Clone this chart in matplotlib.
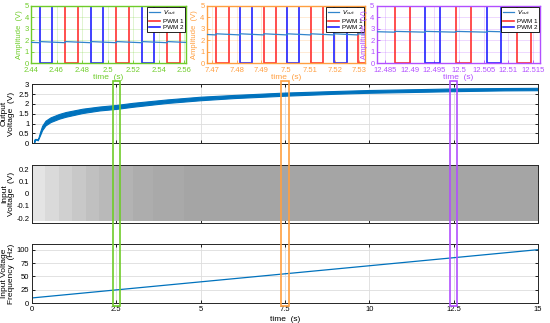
import numpy as np
import matplotlib
matplotlib.use("Agg")
import matplotlib.pyplot as plt
from matplotlib.patches import Rectangle
from matplotlib.ticker import FuncFormatter

plt.rcParams['font.family'] = ['Liberation Sans', 'DejaVu Sans']
plt.rcParams['axes.unicode_minus'] = False

# ---- main traces ----
t_out = [0, 0.06, 0.08, 0.14, 0.17, 0.2, 0.24, 0.3, 0.4, 0.55, 0.8, 1.0, 1.5, 2.0,
         2.5, 3.0, 4.0, 5.0, 6.0, 7.5, 9.0, 10.0, 11.0, 12.5, 14.0, 15.0]
v_out_mid = [0, 0, 0.2, 0.2, 0.17, 0.3, 0.5, 0.78, 1.03, 1.2, 1.37, 1.47, 1.65, 1.77,
             1.85, 1.96, 2.14, 2.28, 2.38, 2.5, 2.59, 2.64, 2.67, 2.72, 2.75, 2.76]
v_out_half = [0.01, 0.01, 0.02, 0.02, 0.02, 0.04, 0.08, 0.11, 0.12, 0.12, 0.12, 0.12, 0.11, 0.1,
              0.1, 0.1, 0.09, 0.09, 0.08, 0.08, 0.07, 0.07, 0.07, 0.07, 0.06, 0.06]

freq_t = [0, 15]
freq_hz = [10, 100]

# input voltage: envelope and grey tone of the dense chirp, by time band
vin_amp = 0.225
vin_edges = [0, 0.4, 0.8, 1.2, 1.6, 2.0, 2.5, 3.0, 3.6, 4.5, 15]
vin_shades = ['#e4e4e4', '#dadada', '#d0d0d0', '#c8c8c8', '#c0c0c0', '#b9b9b9',
              '#b3b3b3', '#adadad', '#a9a9a9', '#a5a5a5']

main_xticks = [0, 2.5, 5, 7.5, 10, 12.5, 15]

# ---- zoom windows ----
zoom_centers = [2.5, 7.5, 12.5]
zoom_half = 0.105
zoom_colors = ['#6fcc2a', '#ff9f40', '#b24fff']

z_xlim = [[2.44, 2.5615], [7.4677, 7.5323], [12.4833, 12.5164]]
z_ticks = [[2.44, 2.46, 2.48, 2.5, 2.52, 2.54, 2.56],
           [7.47, 7.48, 7.49, 7.5, 7.51, 7.52, 7.53],
           [12.485, 12.49, 12.495, 12.5, 12.505, 12.51, 12.515]]
z_pwm1_low = [[(2.4668, 2.4766), (2.5070, 2.5168), (2.5468, 2.5566)],
              [(7.4715, 7.4766), (7.4910, 7.4958), (7.5101, 7.5152), (7.5293, 7.5345)],
              [(12.4870, 12.4901), (12.4993, 12.5024), (12.5117, 12.5146)]]
z_pwm2_low = [[(2.4470, 2.4568), (2.4870, 2.4968), (2.5268, 2.5368)],
              [(7.4814, 7.4862), (7.5005, 7.5053), (7.5197, 7.5248)],
              [(12.4932, 12.4961), (12.5056, 12.5086)]]
z_vout_lo = [1.77, 2.45, 2.69]
z_vout_hi = [1.87, 2.55, 2.76]


def square(lows, xlim):
    xs, ys = [xlim[0]], [5]
    for a, b in lows:
        xs += [a, a, b, b]
        ys += [5, 0, 0, 5]
    xs.append(xlim[1])
    ys.append(5)
    return xs, ys


def sawtooth(jumps, lo, hi, xlim):
    per = jumps[1] - jumps[0]
    v0 = hi - (hi - lo) * (xlim[0] - (jumps[0] - per)) / per
    xs, ys = [xlim[0]], [v0]
    for j in jumps:
        xs += [j, j]
        ys += [lo, hi]
    v1 = hi - (hi - lo) * (xlim[1] - jumps[-1]) / per
    xs.append(xlim[1])
    ys.append(v1)
    return xs, ys


fmt = FuncFormatter(lambda v, p: '%g' % v)

fig = plt.figure(figsize=(5.5, 3.23), dpi=100)
W, H = 550.0, 323.0


def px_axes(left, right, top, bottom):
    return fig.add_axes([left / W, 1 - bottom / H, (right - left) / W, (bottom - top) / H])


def style_main(ax):
    ax.tick_params(direction='in', length=2.5, width=0.6, labelsize=5.5, top=True, right=True, pad=2)
    for s in ax.spines.values():
        s.set_linewidth(0.7)
        s.set_color('#262626')
    ax.grid(True, color='#dddddd', lw=0.6)
    ax.set_axisbelow(True)
    ax.set_xlim(0, 15)
    ax.set_xticks(main_xticks)
    ax.xaxis.set_major_formatter(fmt)
    ax.yaxis.set_major_formatter(fmt)
    ax.yaxis.set_label_coords(-0.033, 0.5)


# ---- insets ----
inset_px = [(31, 186, 5.7, 63), (206.7, 365, 5.7, 63), (376.5, 540, 5.7, 63)]
for i in range(3):
    c = zoom_colors[i]
    ax = px_axes(*inset_px[i])
    xlim = z_xlim[i]
    jumps = sorted([a for a, b in z_pwm1_low[i]] + [a for a, b in z_pwm2_low[i]])
    jumps = [j for j in jumps if j < xlim[1]]
    sx, sy = sawtooth(jumps, z_vout_lo[i], z_vout_hi[i], xlim)
    ax.plot(sx, sy, color='#3185cc', lw=0.9, label='$V_{out}$', zorder=3)
    px, py = square(z_pwm1_low[i], xlim)
    ax.plot(px, py, color='#ff3030', lw=1.2, label='PWM 1', zorder=2)
    px, py = square(z_pwm2_low[i], xlim)
    ax.plot(px, py, color='#2020ff', lw=1.2, label='PWM 2', zorder=2.5)
    ax.set_xlim(xlim)
    ax.set_ylim(0, 5)
    ax.set_xticks(z_ticks[i])
    ax.set_yticks(range(6))
    ax.xaxis.set_major_formatter(fmt)
    ax.tick_params(direction='in', length=2, width=0.6, labelsize=5.5, colors=c, pad=1.5)
    ax.tick_params(axis='x', pad=2.8)
    for s in ax.spines.values():
        s.set_color(c)
        s.set_linewidth(1.0)
    ax.grid(True, color=c, alpha=0.25, lw=0.6)
    ax.set_axisbelow(True)
    ax.set_xlabel('time  (s)', fontsize=6, color=c, labelpad=0)
    ax.set_ylabel('Amplitude  (V)', fontsize=5.5, color=c, labelpad=1.5)
    leg = ax.legend(loc='upper right', fontsize=4.5, frameon=True, fancybox=False,
                    borderpad=0.25, labelspacing=0.15, handlelength=1.8, handletextpad=0.4,
                    borderaxespad=0.2)
    leg.get_frame().set_edgecolor('black')
    leg.get_frame().set_linewidth(0.6)
    leg.get_frame().set_alpha(1)

# ---- output voltage ----
ax1 = px_axes(32, 538, 84.3, 143.3)
mid = np.array(v_out_mid)
half = np.array(v_out_half)
ax1.fill_between(t_out, mid - half, mid + half, color='#0072BD', lw=0.8, edgecolor='#0072BD')
ax1.set_ylim(0, 3)
ax1.set_yticks([0, 0.5, 1, 1.5, 2, 2.5, 3])
style_main(ax1)
ax1.set_xticklabels([])
ax1.set_ylabel('Output\nVoltage  (V)', fontsize=6, linespacing=1.1)

# ---- input voltage ----
ax2 = px_axes(32, 538, 165, 223)
for k in range(len(vin_shades)):
    ax2.fill_between([vin_edges[k], vin_edges[k + 1]], -vin_amp, vin_amp,
                     color=vin_shades[k], lw=0)
ax2.set_ylim(-0.24, 0.235)
ax2.set_yticks([-0.2, -0.1, 0, 0.1, 0.2])
style_main(ax2)
ax2.grid(False)
ax2.set_xticklabels([])
ax2.set_ylabel('Input\nVoltage  (V)', fontsize=6, linespacing=1.1)

# ---- input frequency ----
ax3 = px_axes(32, 538, 244.3, 303.3)
ax3.plot(freq_t, freq_hz, color='#0072BD', lw=0.9)
ax3.set_ylim(0, 110)
ax3.set_yticks([0, 25, 50, 75, 100])
style_main(ax3)
ax3.set_ylabel('Input Voltage\nFrequency  (Hz)', fontsize=6, linespacing=1.1)
ax3.set_xlabel('time  (s)', fontsize=6, labelpad=2)

# ---- zoom rectangles spanning the three main panels ----
ov = px_axes(32, 538, 80.5, 306)
ov.set_xlim(0, 15)
ov.set_ylim(0, 1)
ov.axis('off')
ov.patch.set_alpha(0)
for c, col in zip(zoom_centers, zoom_colors):
    ov.add_patch(Rectangle((c - zoom_half, 0), 2 * zoom_half, 1, fill=False,
                           edgecolor=col, lw=1.2, clip_on=False))

fig.savefig('out.png', dpi=100)
